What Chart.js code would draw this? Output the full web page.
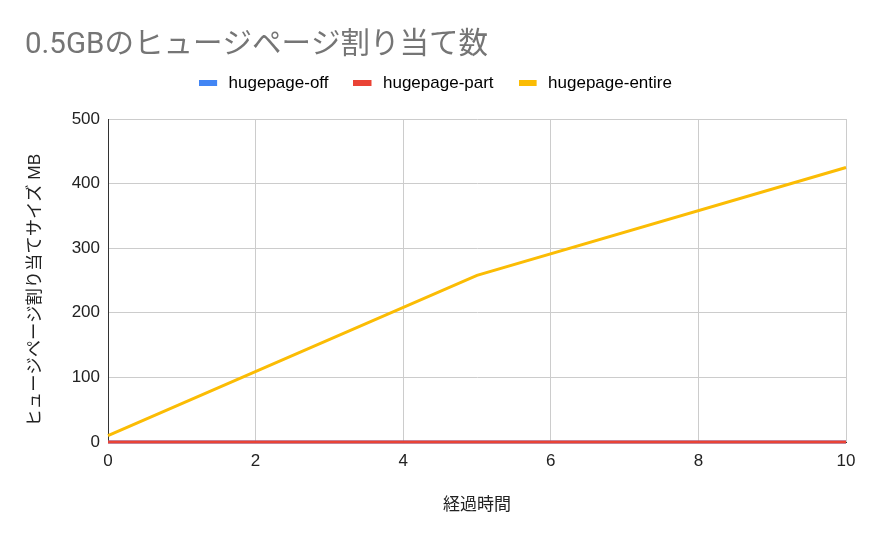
<!DOCTYPE html>
<html>
<head>
<meta charset="utf-8">
<script src="https://cdn.jsdelivr.net/npm/chart.js@4/dist/chart.umd.min.js"></script>
<style>
  html, body { margin: 0; padding: 0; background: #ffffff; }
  #c { display: block; }
</style>
</head>
<body>
<canvas id="c" width="874" height="540" style="width:874px;height:540px"></canvas>
<script>
const titleText = '0.5GBのヒュージページ割り当て数';
const xAxisTitle = '経過時間';
const yAxisTitle = 'ヒュージページ割り当てサイズ MB';
const xValues = [0, 5, 10];
const seriesNames = ['hugepage-off', 'hugepage-part', 'hugepage-entire'];
const offValues = [0, 0, 0];
const partValues = [0, 0, 0];
const entireValues = [10, 258, 425];
const seriesColors = ['#4285F4', '#EA4335', '#FBBC04'];

const FONT = "'Liberation Sans', Arial, 'Noto Sans CJK JP', sans-serif";
const TITLE_FONT = "Roboto, 'Noto Sans CJK JP', sans-serif";

function toPoints(vals) { return xValues.map((x, i) => ({ x: x, y: vals[i] })); }

// legend swatch: an 18x6 bar inside a 21px wide image
function swatch(color) {
  const c = document.createElement('canvas');
  c.width = 21; c.height = 6;
  const g = c.getContext('2d');
  g.fillStyle = color;
  g.fillRect(0, 0, 18, 6);
  return c;
}

const allSeries = [offValues, partValues, entireValues];
const datasets = allSeries.map((vals, i) => ({
  label: seriesNames[i],
  data: toPoints(vals),
  borderColor: seriesColors[i],
  backgroundColor: seriesColors[i],
  borderWidth: 3,
  pointRadius: 0,
  pointHoverRadius: 0,
  tension: 0,
  fill: false,
  clip: 4,
  order: 3 - i
}));

new Chart(document.getElementById('c'), {
  type: 'line',
  data: { datasets: datasets },
  options: {
    responsive: false,
    animation: false,
    devicePixelRatio: 1,
    layout: { padding: { left: 25, right: 28, top: 0, bottom: 0 } },
    plugins: {
      title: {
        display: true,
        text: titleText,
        align: 'start',
        color: '#757575',
        font: { family: TITLE_FONT, size: 29.5, weight: 'normal' },
        padding: { top: 28, bottom: -13.9 }
      },
      subtitle: {
        display: true,
        text: '',
        weight: 500,
        font: { size: 1, lineHeight: 1 },
        padding: { top: 16.5, bottom: 0 }
      },
      legend: {
        display: true,
        position: 'top',
        align: 'center',
        labels: {
          usePointStyle: true,
          pointStyleWidth: 21,
          boxHeight: 6,
          padding: 25,
          color: '#222222',
          font: { family: FONT, size: 17 },
          generateLabels: (chart) => chart.data.datasets.map((ds, i) => ({
            text: ds.label,
            fillStyle: ds.borderColor,
            strokeStyle: ds.borderColor,
            pointStyle: swatch(ds.borderColor),
            lineWidth: 0,
            hidden: false,
            datasetIndex: i
          }))
        }
      },
      tooltip: { enabled: false }
    },
    scales: {
      x: {
        type: 'linear',
        min: 0,
        max: 10,
        afterFit: (s) => { s.height = 98; },
        ticks: {
          stepSize: 2,
          color: '#222222',
          font: { family: FONT, size: 17 },
          padding: 9,
          maxRotation: 0
        },
        grid: { color: '#cccccc', lineWidth: 1, drawTicks: false },
        border: { color: '#333333', width: 1 },
        title: {
          display: true,
          text: xAxisTitle,
          color: '#222222',
          font: { family: FONT, size: 17 },
          padding: { top: 0, bottom: 24 }
        }
      },
      y: {
        type: 'linear',
        min: 0,
        max: 500,
        afterFit: (s) => { s.width = 83; },
        ticks: {
          stepSize: 100,
          color: '#222222',
          font: { family: FONT, size: 17 },
          padding: 8
        },
        grid: { color: '#cccccc', lineWidth: 1, drawTicks: false },
        border: { color: '#333333', width: 1 },
        title: {
          display: true,
          text: yAxisTitle + '    ',
          color: '#222222',
          font: { family: FONT, size: 17.3 },
          padding: { top: 0, bottom: 0 }
        }
      }
    }
  }
});
</script>
</body>
</html>
